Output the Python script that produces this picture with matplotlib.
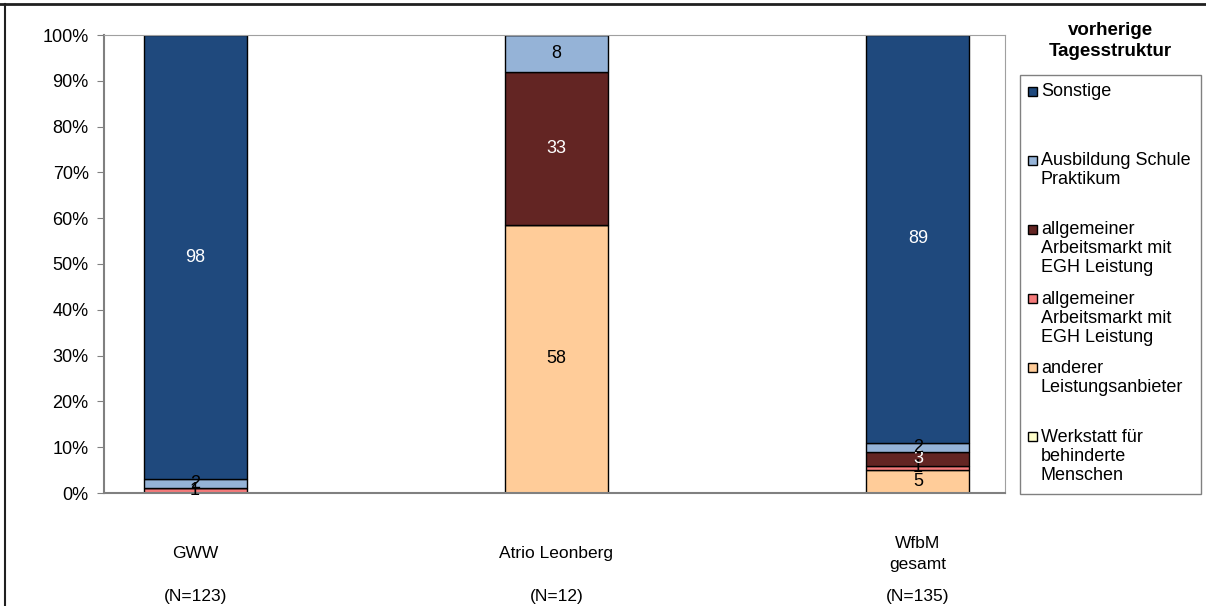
import numpy as np
import matplotlib.pyplot as plt
from matplotlib.patches import Rectangle
from matplotlib.lines import Line2D

plt.rcParams['font.family'] = ['Liberation Sans', 'DejaVu Sans']

# -------------------- DATA --------------------
groups = ["GWW", "Atrio Leonberg", "WfbM\ngesamt"]
group_n = ["(N=123)", "(N=12)", "(N=135)"]

# stacked from bottom to top
series_names = [
    "Werkstatt für\nbehinderte\nMenschen",
    "anderer\nLeistungsanbieter",
    "allgemeiner\nArbeitsmarkt mit\nEGH Leistung",
    "allgemeiner\nArbeitsmarkt mit\nEGH Leistung",
    "Ausbildung Schule\nPraktikum",
    "Sonstige",
]
werkstatt = [0, 0, 0]
anderer = [0, 58, 5]
allg_ohne = [1, 0, 1]
allg_mit = [0, 33, 3]
ausbildung = [2, 8, 2]
sonstige = [98, 0, 89]

series_values = [werkstatt, anderer, allg_ohne, allg_mit, ausbildung, sonstige]
colors = ["#FFFFCC", "#FFCC99", "#F47A7A", "#632523", "#95B3D7", "#1F497D"]
label_colors = ["black", "black", "black", "white", "black", "white"]

# -------------------- 100% STACK --------------------
values = np.array(series_values, dtype=float)
shares = values / values.sum(axis=0) * 100

fig = plt.figure(figsize=(12.06, 6.06), dpi=100)
ax = fig.add_axes([104 / 1206, 1 - 493 / 606, 901 / 1206, 458 / 606])

x = np.arange(len(groups))
bottom = np.zeros(len(groups))
for vals, share, col, lcol in zip(values, shares, colors, label_colors):
    ax.bar(x, share, 0.285, bottom=bottom, color=col, edgecolor="black", linewidth=1)
    for xi, v, s, b in zip(x, vals, share, bottom):
        if v > 0:
            ax.text(xi, b + s / 2, f"{v:.0f}", ha="center", va="center",
                    fontsize=13, color=lcol)
    bottom += share

ax.set_xlim(-0.252, 2.241)
ax.set_ylim(0, 100)
ax.set_yticks(np.arange(0, 101, 10))
ax.set_yticklabels([f"{t}%" for t in range(0, 101, 10)], fontsize=13)
ax.set_xticks([])
ax.tick_params(axis="y", direction="out", length=5, color="#808080", pad=6)
for side in ["top", "right"]:
    ax.spines[side].set_color("#A0A0A0")
for side in ["left", "bottom"]:
    ax.spines[side].set_color("#808080")
    ax.spines[side].set_linewidth(1.5)

# category labels below the axis
for xi, name, n in zip(x, groups, group_n):
    ax.text(xi, -0.133, name, transform=ax.get_xaxis_transform(), ha="center",
            va="center", fontsize=12.5, linespacing=1.45, clip_on=False)
    ax.text(xi, -0.225, n, transform=ax.get_xaxis_transform(), ha="center",
            va="center", fontsize=12.5, clip_on=False)

# -------------------- LEGEND --------------------
W, H = 1206, 606
fig.text(1110 / W, 1 - 41 / H, "vorherige\nTagesstruktur", ha="center", va="center",
         fontsize=13.5, fontweight="bold", linespacing=1.35)
fig.add_artist(Rectangle((1020 / W, 1 - 494 / H), 181 / W, 419 / H,
                         transform=fig.transFigure, facecolor="white",
                         edgecolor="#808080", linewidth=1))
entry_y = 91
for name, col in zip(series_names[::-1], colors[::-1]):
    fig.add_artist(Rectangle((1028 / W, 1 - (entry_y + 4.5) / H), 9 / W, 9 / H,
                             transform=fig.transFigure, facecolor=col,
                             edgecolor="black", linewidth=1))
    fig.text(1041 / W, 1 - (entry_y - 8) / H, name, ha="left", va="top",
             fontsize=13, linespacing=1.15)
    entry_y += 69.2

# outer frame
fig.add_artist(Line2D([0, 1], [1 - 4 / H, 1 - 4 / H], transform=fig.transFigure,
                      color="#202020", linewidth=2))
fig.add_artist(Line2D([5 / W, 5 / W], [0, 1 - 4 / H], transform=fig.transFigure,
                      color="#202020", linewidth=1.5))

fig.savefig("out.png", dpi=100)
